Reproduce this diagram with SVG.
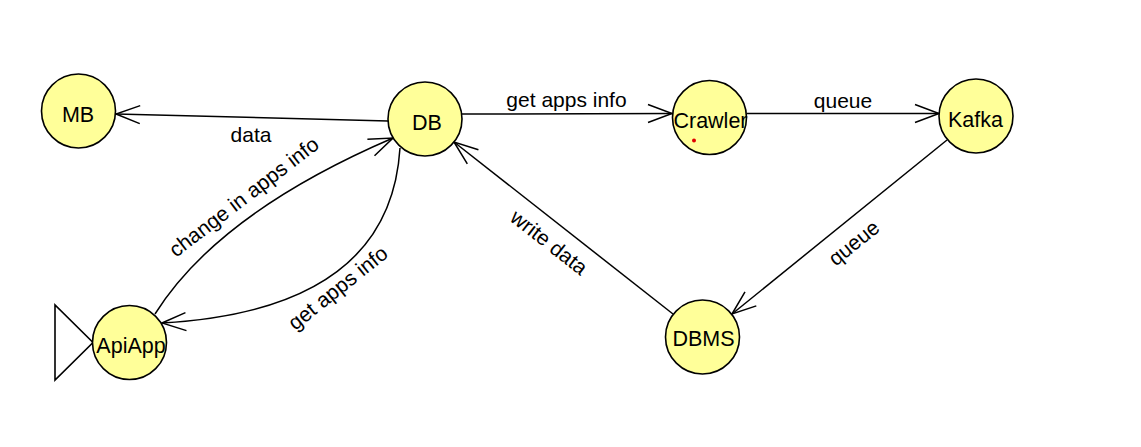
<svg xmlns="http://www.w3.org/2000/svg" width="1141" height="447" viewBox="0 0 1141 447">
<defs>
<style>
.node{fill:#FFFF99;stroke:#000;stroke-width:1.6}
.nl{font-family:"Liberation Sans",Arial,sans-serif;font-size:21.5px;fill:#000;text-anchor:middle}
.el{font-family:"Liberation Sans",Arial,sans-serif;font-size:21px;fill:#000;text-anchor:middle}
.edge{fill:none;stroke:#000;stroke-width:1.5;marker-end:url(#arr)}
</style>
<marker id="arr" markerUnits="userSpaceOnUse" viewBox="-1 -1 27 20" refX="24" refY="9" markerWidth="27" markerHeight="20" orient="auto" overflow="visible">
<path d="M0,0 L24,9 L0,18" fill="none" stroke="#000" stroke-width="1.5"/>
</marker>
</defs>
<rect width="1141" height="447" fill="#fff"/>
<g id="connectors">
<path class="edge" d="M388,121 L116,114"/>
<path class="edge" d="M462,114 L672,113.5"/>
<path class="edge" d="M747,113.5 L939,113.5"/>
<path class="edge" d="M947,140 L732,314"/>
<path class="edge" d="M673,314 L454,142"/>
<path class="edge" d="M155,314 Q218.5,213 393,138"/>
<path class="edge" d="M400,148 Q390,310 162,323"/>
<text class="el" x="251" y="142">data</text>
<text class="el" x="566.5" y="107">get apps info</text>
<text class="el" x="843" y="108">queue</text>
<text class="el" transform="translate(244,197) rotate(-37.5)" y="7">change in apps info</text>
<text class="el" transform="translate(338,288) rotate(-38.5)" y="7">get apps info</text>
<text class="el" transform="translate(549,242.5) rotate(38)" y="7">write data</text>
<text class="el" transform="translate(854,243) rotate(-39)" y="7">queue</text>
</g>
<g id="MB"><circle class="node" cx="78.5" cy="111" r="37"/><text class="nl" x="78" y="121.5">MB</text></g>
<g id="DB"><circle class="node" cx="425" cy="119" r="37"/><text class="nl" x="427" y="130">DB</text></g>
<g id="Crawler"><circle class="node" cx="709.5" cy="117.5" r="37"/><text class="nl" x="710.5" y="127.5">Crawler</text><circle cx="694" cy="140.5" r="2" fill="#e00000"/></g>
<g id="Kafka"><circle class="node" cx="976" cy="116" r="37"/><text class="nl" x="975.5" y="126.5">Kafka</text></g>
<g id="ApiApp"><path d="M55,305 L55,380 L93,342.5 Z" fill="none" stroke="#000" stroke-width="1.6"/><circle class="node" cx="129.5" cy="342.5" r="37"/><text class="nl" x="131" y="353">ApiApp</text></g>
<g id="DBMS"><circle class="node" cx="702.5" cy="337" r="37"/><text class="nl" x="703.5" y="345.5">DBMS</text></g>
</svg>
